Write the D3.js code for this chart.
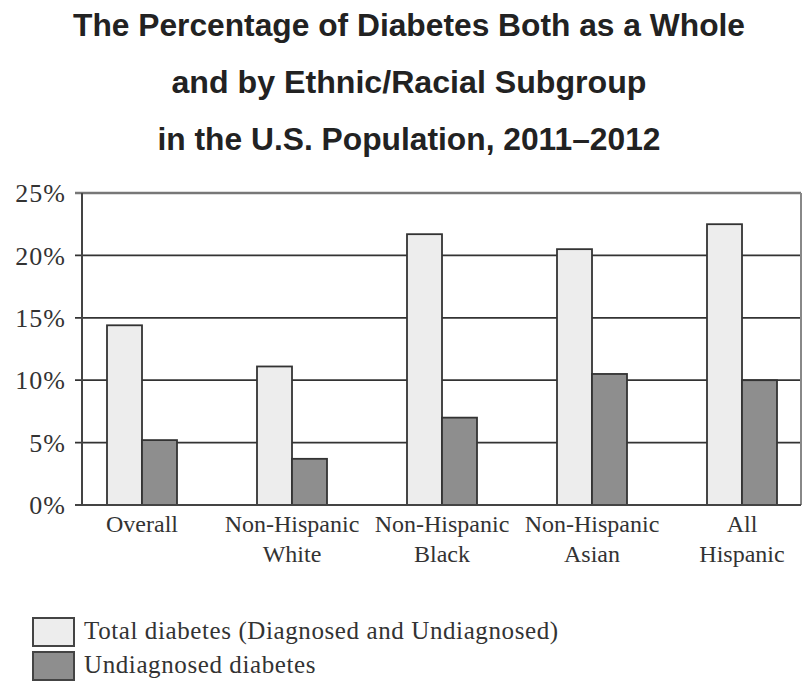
<!DOCTYPE html>
<html>
<head>
<meta charset="utf-8">
<script src="https://cdn.jsdelivr.net/npm/d3@7"></script>
<style>
  body { margin: 0; background: #fff; }
  svg { display: block; }
</style>
</head>
<body>
<svg width="802" height="684"></svg>
<script>
// chart data
var categories = [["Overall"], ["Non-Hispanic", "White"], ["Non-Hispanic", "Black"], ["Non-Hispanic", "Asian"], ["All", "Hispanic"]];
var totalDiabetes = [14.4, 11.1, 21.7, 20.5, 22.5];
var undiagnosed = [5.2, 3.7, 7.0, 10.5, 10.0];
var seriesNames = ["Total diabetes (Diagnosed and Undiagnosed)", "Undiagnosed diabetes"];
var yTicks = [0, 5, 10, 15, 20, 25];
var titleLines = ["The Percentage of Diabetes Both as a Whole", "and by Ethnic/Racial Subgroup", "in the U.S. Population, 2011\u20132012"];

var svg = d3.select("svg");
var plotLeft = 82, plotRight = 801, plotTop = 193, plotBottom = 505;
var fills = ["#ededed", "#8e8e8e"];

var yScale = d3.scaleLinear().domain([0, 25]).range([plotBottom, plotTop]);
var xScale = d3.scaleBand().domain(d3.range(categories.length)).range([67, 817]);
var inner = d3.scaleBand().domain([0, 1]).range([0, 70]);

// title
var titleY = [36, 93, 150];
var titleW = [672, 475, 503];
svg.append("g").selectAll("text")
  .data(titleLines)
  .enter().append("text")
  .attr("x", 409)
  .attr("y", function(d, i) { return titleY[i]; })
  .attr("text-anchor", "middle")
  .attr("textLength", function(d, i) { return titleW[i]; })
  .attr("lengthAdjust", "spacingAndGlyphs")
  .style("font-family", "'Liberation Sans', Arial, sans-serif")
  .style("font-weight", "bold")
  .style("font-size", "31px")
  .style("fill", "#222")
  .text(function(d) { return d; });

// gridlines
svg.append("g").selectAll("line")
  .data(yTicks)
  .enter().append("line")
  .attr("x1", 75)
  .attr("x2", plotRight)
  .attr("y1", function(d) { return yScale(d); })
  .attr("y2", function(d) { return yScale(d); })
  .style("stroke", function(d) { return d == 25 ? "#777" : "#333"; })
  .style("stroke-width", function(d) { return d == 25 ? 2.5 : 1.8; });

// y tick labels
svg.append("g").selectAll("text")
  .data(yTicks)
  .enter().append("text")
  .attr("x", 66)
  .attr("y", function(d) { return yScale(d); })
  .attr("dy", "0.35em")
  .attr("text-anchor", "end")
  .style("font-family", "'Liberation Serif', 'Times New Roman', serif")
  .style("font-size", "26px")
  .style("letter-spacing", "1px")
  .style("fill", "#333")
  .text(function(d) { return d + "%"; });

// bars
var groups = svg.append("g").selectAll("g")
  .data(categories.map(function(c, i) { return [totalDiabetes[i], undiagnosed[i]]; }))
  .enter().append("g")
  .attr("transform", function(d, i) { return "translate(" + (xScale(i) + xScale.bandwidth() / 2 - 35) + ",0)"; });

groups.selectAll("rect")
  .data(function(d) { return d; })
  .enter().append("rect")
  .attr("x", function(d, j) { return inner(j); })
  .attr("y", function(d) { return yScale(d); })
  .attr("width", inner.bandwidth())
  .attr("height", function(d) { return plotBottom - yScale(d); })
  .style("fill", function(d, j) { return fills[j]; })
  .style("stroke", "#333")
  .style("stroke-width", 1.8);

// frame
svg.append("line").attr("x1", plotLeft).attr("x2", plotLeft).attr("y1", plotTop).attr("y2", plotBottom)
  .style("stroke", "#444").style("stroke-width", 2);
svg.append("line").attr("x1", plotRight).attr("x2", plotRight).attr("y1", plotTop).attr("y2", plotBottom)
  .style("stroke", "#888").style("stroke-width", 2);
svg.append("line").attr("x1", 75).attr("x2", plotRight).attr("y1", plotBottom).attr("y2", plotBottom)
  .style("stroke", "#444").style("stroke-width", 2);

// x labels
var xl = svg.append("g").selectAll("text")
  .data(categories)
  .enter().append("text")
  .attr("x", function(d, i) { return xScale(i) + xScale.bandwidth() / 2; })
  .attr("y", 532)
  .attr("text-anchor", "middle")
  .style("font-family", "'Liberation Serif', 'Times New Roman', serif")
  .style("font-size", "24px")
  .style("fill", "#333");
xl.selectAll("tspan")
  .data(function(d) { return d; })
  .enter().append("tspan")
  .attr("x", function() { return d3.select(this.parentNode).attr("x"); })
  .attr("dy", function(d, j) { return j == 0 ? 0 : 30; })
  .text(function(d) { return d; });

// legend
var legend = svg.append("g").selectAll("g")
  .data(seriesNames)
  .enter().append("g")
  .attr("transform", function(d, i) { return "translate(0," + (618 + i * 34) + ")"; });
legend.append("rect")
  .attr("x", 33)
  .attr("y", 0)
  .attr("width", 41)
  .attr("height", 28)
  .style("fill", function(d, i) { return fills[i]; })
  .style("stroke", "#444")
  .style("stroke-width", 2);
legend.append("text")
  .attr("x", 84)
  .attr("y", 21)
  .style("font-family", "'Liberation Serif', 'Times New Roman', serif")
  .style("font-size", "25px")
  .style("letter-spacing", "0.6px")
  .style("fill", "#333")
  .text(function(d) { return d; });
</script>
</body>
</html>
